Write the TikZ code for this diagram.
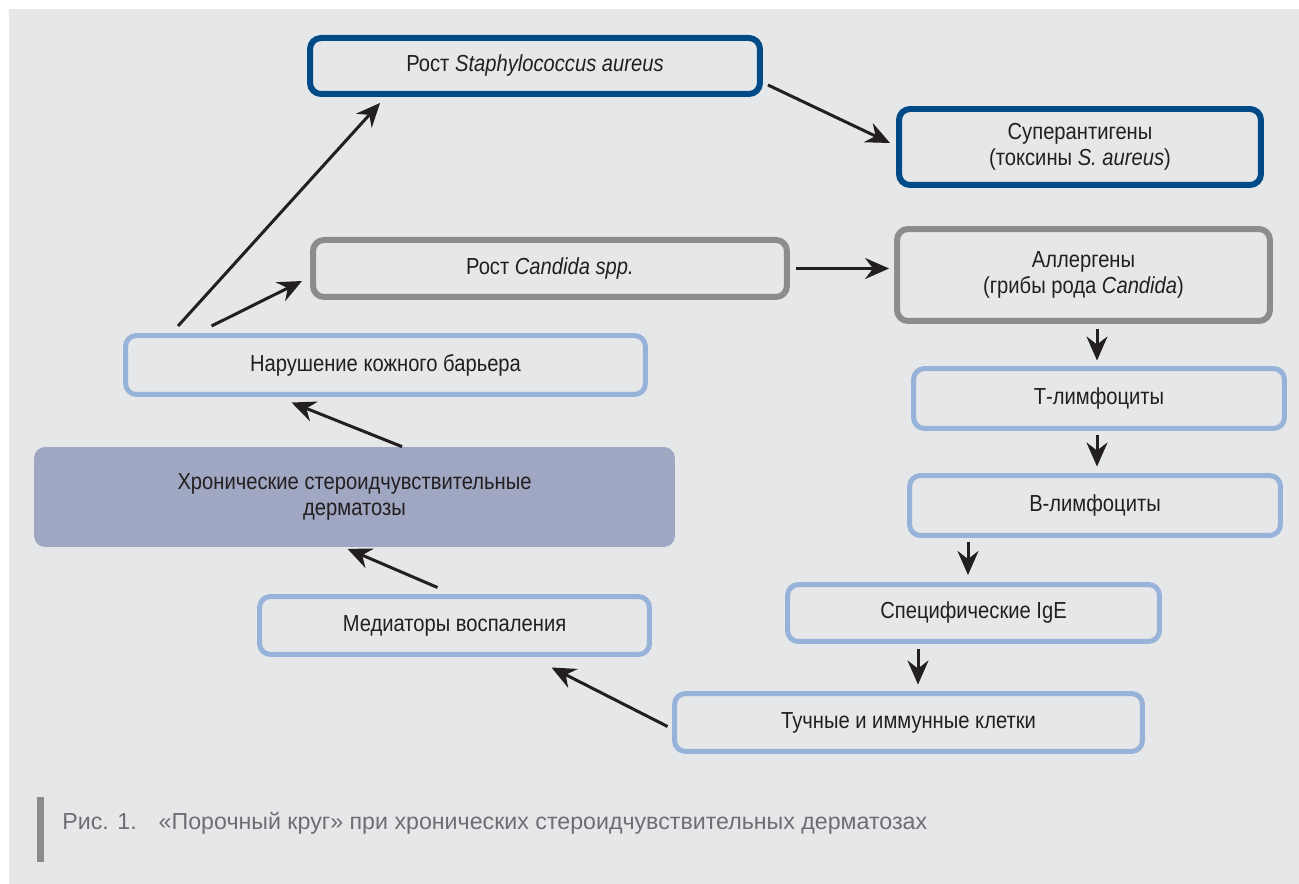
\documentclass[tikz,border=0pt]{standalone}
\usepackage{fontspec}
\setmainfont[FakeStretch=0.87]{Liberation Sans}
\newfontfamily\capfont{Liberation Sans}
\usetikzlibrary{calc,arrows.meta}

\definecolor{bgcol}{RGB}{230,231,232}
\definecolor{darkblue}{RGB}{0,74,135}
\definecolor{boxgrey}{RGB}{140,140,140}
\definecolor{lightblue}{RGB}{152,179,217}
\definecolor{chronicfill}{RGB}{160,167,194}
\definecolor{txt}{RGB}{35,31,32}
\definecolor{capgrey}{RGB}{109,110,113}

\tikzset{
  box/.style={rounded corners=0.22cm, align=center, inner sep=0pt, text=txt,
    font=\fontsize{13.2}{14.6}\selectfont},
  darkbox/.style={box, draw=darkblue, line width=0.12cm},
  greybox/.style={box, draw=boxgrey, line width=0.12cm},
  lightbox/.style={box, draw=lightblue, line width=0.1cm},
  arr/.style={-{Stealth[length=0.48cm,width=0.42cm,inset=0.16cm]}, line width=0.06cm, draw=txt}
}

\begin{document}
\begin{tikzpicture}[x=0.02cm, y=-0.02cm]
		%%%%% FRAME %%%%%
		\useasboundingbox (0,0) rectangle (1299,884);
		\fill[bgcol] (9,9) rectangle (1299,884);
		
		%%%%% BOXES %%%%%
		\node[darkbox, minimum width=9.0cm, minimum height=1.12cm] (staph) at (535,66) {Рост \textit{Staphylococcus aureus}};
		\node[darkbox, minimum width=7.24cm, minimum height=1.52cm] (super) at (1080,147) {Суперантигены\\(токсины \textit{S. aureus})};
		
		\node[greybox, minimum width=9.48cm, minimum height=1.14cm] (candida) at (550,268.5) {Рост \textit{Candida spp.}};
		\node[greybox, minimum width=7.46cm, minimum height=1.84cm] (allerg) at (1083.5,275) {Аллергены\\(грибы рода \textit{Candida})};
		
		\node[lightbox, minimum width=10.4cm, minimum height=1.18cm] (narush) at (385.5,365) {Нарушение кожного барьера};
		\node[box, fill=chronicfill, minimum width=12.82cm, minimum height=2.0cm] (chronic) at (354.5,497) {\raisebox{-0.06cm}{\parbox{9cm}{\centering Хронические стероидчувствительные\\дерматозы}}};
		\node[lightbox, minimum width=7.8cm, minimum height=1.16cm] (medi) at (454.5,625.5) {Медиаторы воспаления};
		
		\node[lightbox, minimum width=7.42cm, minimum height=1.2cm] (tlym) at (1099,398.5) {Т-лимфоциты};
		\node[lightbox, minimum width=7.42cm, minimum height=1.2cm] (blym) at (1095,505.5) {В-лимфоциты};
		\node[lightbox, minimum width=7.44cm, minimum height=1.14cm] (ige) at (973.5,613) {Специфические IgE};
		\node[lightbox, minimum width=9.36cm, minimum height=1.16cm] (mast) at (908.5,722.5) {Тучные и иммунные клетки};
		
		%%%%% ARROWS %%%%%
		\draw[arr] ([xshift=-4.15cm,yshift=0.14cm]narush.north) -- ([xshift=-3.1cm,yshift=-0.12cm]staph.south);
		\draw[arr] ([xshift=-3.48cm,yshift=0.14cm]narush.north) -- ([xshift=-0.16cm,yshift=-0.25cm]candida.west);
		\draw[arr] ([xshift=0.1cm,yshift=-0.38cm]staph.east) -- ([xshift=-0.12cm,yshift=0.08cm]super.west);
		\draw[arr] ([xshift=0.12cm]candida.east) -- ([xshift=-0.1cm]candida.east -| allerg.west);
		
		\draw[arr] ([xshift=0.27cm,yshift=-0.1cm]allerg.south) -- ([xshift=0.27cm,yshift=0.11cm]allerg.south |- tlym.north);
		\draw[arr] ([xshift=-0.04cm,yshift=-0.09cm]tlym.south) -- ([xshift=-0.04cm,yshift=0.13cm]tlym.south |- blym.north);
		\draw[arr] ([xshift=-0.11cm,yshift=-0.09cm]ige.north |- blym.south) -- ([xshift=-0.11cm,yshift=0.14cm]ige.north);
		\draw[arr] ([xshift=0.19cm,yshift=-0.1cm]mast.north |- ige.south) -- ([xshift=0.19cm,yshift=0.13cm]mast.north);
		
		\draw[arr] ([xshift=-0.09cm,yshift=-0.08cm]mast.west) -- ([xshift=1.94cm,yshift=-0.21cm]medi.south);
		\draw[arr] ([xshift=-0.34cm,yshift=0.13cm]medi.north) -- ([xshift=-0.14cm,yshift=-0.03cm]chronic.south);
		\draw[arr] ([xshift=0.95cm]chronic.north) -- ([xshift=-1.88cm,yshift=-0.11cm]narush.south);
		
		%%%%% CAPTION %%%%%
		\fill[boxgrey] (37,797) rectangle (44,862);
		\node[anchor=base west, inner sep=0pt, text=capgrey, font=\capfont\fontsize{13.2}{14.6}\selectfont] (caption) at (62,830) {Рис. 1.\hspace{0.44cm}«Порочный круг» при хронических стероидчувствительных дерматозах};
		
		%%%%% END %%%%%
	\end{tikzpicture}
\end{document}
